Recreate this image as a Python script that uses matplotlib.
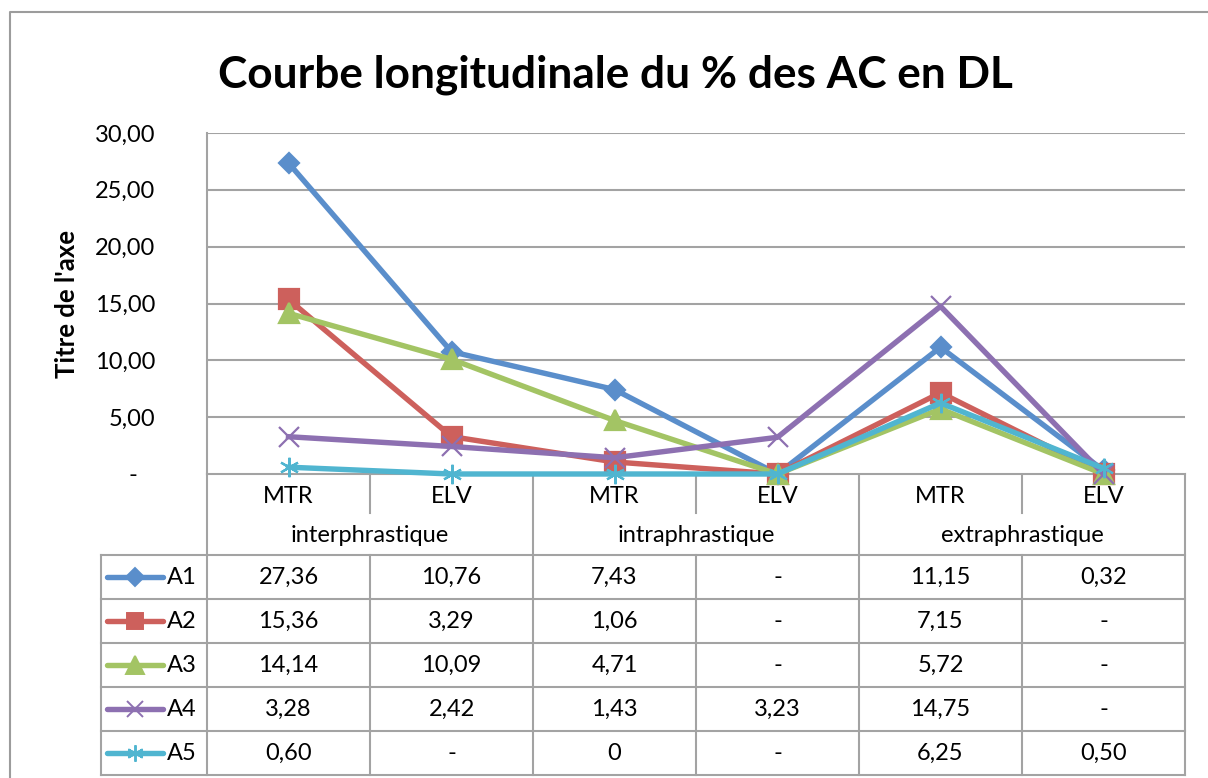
import numpy as np
import matplotlib
matplotlib.use("Agg")
import matplotlib.pyplot as plt
from matplotlib.lines import Line2D

plt.rcParams['font.family'] = ['Lato', 'DejaVu Sans']

# ---- data ----
subcats = ['MTR', 'ELV', 'MTR', 'ELV', 'MTR', 'ELV']
groups = ['interphrastique', 'intraphrastique', 'extraphrastique']
series_names = ['A1', 'A2', 'A3', 'A4', 'A5']
a1 = [27.36, 10.76, 7.43, 0, 11.15, 0.32]
a2 = [15.36, 3.29, 1.06, 0, 7.15, 0]
a3 = [14.14, 10.09, 4.71, 0, 5.72, 0]
a4 = [3.28, 2.42, 1.43, 3.23, 14.75, 0]
a5 = [0.60, 0, 0, 0, 6.25, 0.50]
# cells typed as a literal "0" rather than shown as a dash
literal_zero = {(4, 2)}
yticks = [0, 5, 10, 15, 20, 25, 30]

colors = ['#5a8ecb', '#cd605c', '#a3c464', '#8d70b1', '#50b5d0']
markers = ['D', 's', '^', 'x', (6, 2, 0)]
msizes = [10.5, 14, 15, 14, 14]

GRID = '#a3a3a3'
FS = 17
W, H = 1208, 778


def fmt(v):
    return f"{v:.2f}".replace('.', ',')


fig = plt.figure(figsize=(W / 100, H / 100), dpi=100)

# plot area in pixels
x0, x1, y0, y1 = 207, 1185, 133, 474
ax = fig.add_axes([x0 / W, 1 - y1 / H, (x1 - x0) / W, (y1 - y0) / H])
ax.set_xlim(-0.5, len(subcats) - 0.5)
ax.set_ylim(0, 30)
ax.set_yticks(yticks)
ax.set_yticklabels([fmt(t) if t else '-   ' for t in yticks], fontsize=FS)
ax.set_xticks([])
ax.tick_params(axis='y', length=0, pad=37)
ax.grid(axis='y', color=GRID, lw=1.5)
for s in ['top', 'right', 'bottom']:
    ax.spines[s].set_visible(False)
ax.spines['left'].set_color(GRID)
ax.spines['left'].set_linewidth(1.5)
ax.set_ylabel("Titre de l'axe", fontsize=18.5, fontweight='bold')
ax.yaxis.set_label_coords((79 - x0) / (x1 - x0), 0.5)

xs = np.arange(len(subcats))
all_series = [a1, a2, a3, a4, a5]
for i, vals in enumerate(all_series):
    ax.plot(xs, vals, color=colors[i], lw=3.9, marker=markers[i],
            markersize=msizes[i], mew=1.6, mec=colors[i], clip_on=False,
            zorder=3 + i)

fig.text(615 / W, 1 - 75 / H, 'Courbe longitudinale du % des AC en DL',
         fontsize=31.8, fontweight='bold', ha='center', va='center')

# ---- data table below the plot (pixel coordinates) ----
tb = fig.add_axes([0, 0, 1, 1], zorder=-1)
tb.set_xlim(0, W)
tb.set_ylim(H, 0)
tb.axis('off')

# outer chart border
tb.plot([10, 10, W], [H, 12, 12], color='#9c9c9c', lw=1.5)

col_w = (x1 - x0) / len(subcats)
col_edges = [x0 + k * col_w for k in range(len(subcats) + 1)]
cat_bottom, grp_bottom = 513, 555
row_h = 44
legend_left = 101
row_edges = [grp_bottom + k * row_h for k in range(len(series_names) + 1)]
bottom = row_edges[-1]

lk = dict(color=GRID, lw=1.5)
tb.plot([x0, x1], [y1, y1], **lk)
for k, xe in enumerate(col_edges):
    if k % 2 == 0:
        tb.plot([xe, xe], [y1, bottom], **lk)
    else:
        tb.plot([xe, xe], [y1, cat_bottom], **lk)
        tb.plot([xe, xe], [grp_bottom, bottom], **lk)
tb.plot([legend_left, legend_left], [grp_bottom, bottom], **lk)
for ye in row_edges:
    tb.plot([legend_left, x1], [ye, ye], **lk)

for k, name in enumerate(subcats):
    tb.text((col_edges[k] + col_edges[k + 1]) / 2, 496, name,
            ha='center', va='center', fontsize=FS)
for g, name in enumerate(groups):
    tb.text(col_edges[2 * g + 1], 536, name,
            ha='center', va='center', fontsize=FS)

for i, vals in enumerate(all_series):
    yc = (row_edges[i] + row_edges[i + 1]) / 2
    tb.add_line(Line2D([107, 163], [yc, yc], color=colors[i], lw=3.9,
                       solid_capstyle='round'))
    tb.add_line(Line2D([135], [yc], color=colors[i], marker=markers[i],
                       markersize=msizes[i] * 0.85, mew=1.4, mec=colors[i]))
    tb.text(167, yc, series_names[i], ha='left', va='center', fontsize=FS)
    for k, v in enumerate(vals):
        if v == 0:
            s = '0' if (i, k) in literal_zero else '-'
        else:
            s = fmt(v)
        tb.text((col_edges[k] + col_edges[k + 1]) / 2, yc, s,
                ha='center', va='center', fontsize=FS)

fig.savefig('out.png', dpi=100)
